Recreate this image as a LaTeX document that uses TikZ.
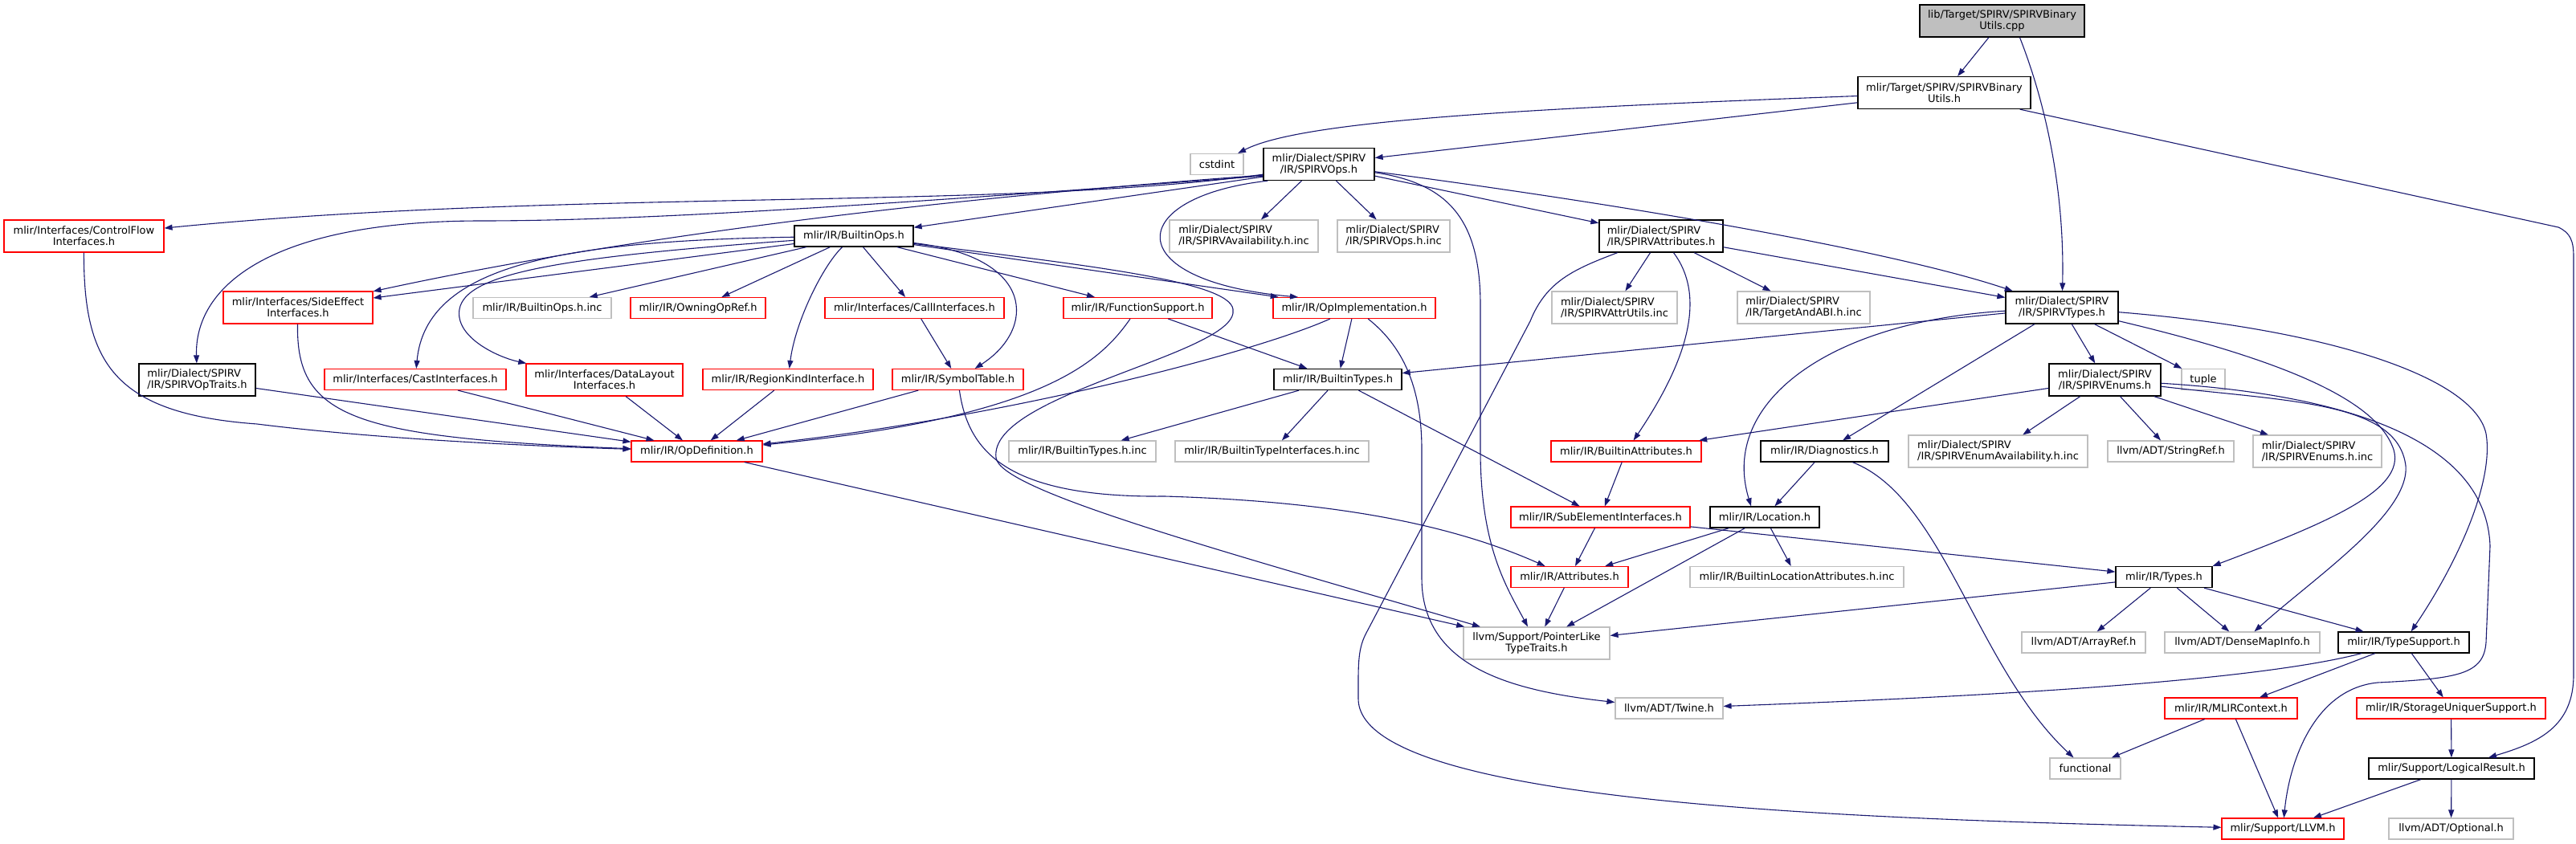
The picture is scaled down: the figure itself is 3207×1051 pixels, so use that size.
\documentclass[tikz,border=0pt]{standalone}
\usepackage{fontspec}
\setmainfont{DejaVu Sans}
\usepackage{tikz}
\usetikzlibrary{arrows.meta}
\definecolor{midnight}{RGB}{25,25,112}
\definecolor{alertRed}{RGB}{255,0,0}
\definecolor{lightGray}{RGB}{191,191,191}
\tikzstyle{edge}  =[-{Triangle[length=10pt,width=7pt]}, line width=1.1pt, midnight]
\tikzstyle{file}  =[rectangle, draw=black, fill=white, line width=1.3pt,
                    inner sep=0pt, minimum height=26pt, align=center,
                    font=\fontsize{13}{14}\selectfont]
\tikzstyle{redfile} =[file, draw=alertRed, line width=1.1pt]
\tikzstyle{grayfile}=[file, draw=lightGray, line width=1.1pt]
\tikzstyle{tall}  =[minimum height=40pt]
\tikzstyle{leftlines}=[align=left]

\begin{document}
\begin{tikzpicture}[x=1pt,y=-1pt]
    \useasboundingbox (0,0) rectangle (3207,1051);

    \draw (2492.5,26) node (top) [file,tall,fill=lightGray,minimum width=205pt] {lib/Target/SPIRV/SPIRVBinary\\Utils.cpp};
    \draw (2420.5,115.5) node (binh) [file,tall,minimum width=215pt] {mlir/Target/SPIRV/SPIRVBinary\\Utils.h};
    \draw (1515,204.5) node (cstdint) [grayfile,minimum width=66pt] {cstdint};
    \draw (1642,204.5) node (ops) [file,tall,minimum width=138pt] {mlir/Dialect/SPIRV\\/IR/SPIRVOps.h};
    \draw (104.5,294) node (ctrlflow) [redfile,tall,minimum width=199pt] {mlir/Interfaces/ControlFlow\\Interfaces.h};
    \draw (1063,294) node (bops) [file,minimum width=148pt] {mlir/IR/BuiltinOps.h};
    \draw (1548.5,294) node (avail) [grayfile,tall,leftlines,minimum width=185pt] {mlir/Dialect/SPIRV\\/IR/SPIRVAvailability.h.inc};
    \draw (1735,294) node (opsinc) [grayfile,tall,leftlines,minimum width=140pt] {mlir/Dialect/SPIRV\\/IR/SPIRVOps.h.inc};
    \draw (2068,294) node (attrs) [file,tall,leftlines,minimum width=154pt] {mlir/Dialect/SPIRV\\/IR/SPIRVAttributes.h};
    \draw (371,383) node (sideeff) [redfile,tall,minimum width=186pt] {mlir/Interfaces/SideEffect\\Interfaces.h};
    \draw (675,383.5) node (bopsinc) [grayfile,minimum width=172pt] {mlir/IR/BuiltinOps.h.inc};
    \draw (869,383.5) node (owning) [redfile,minimum width=168pt] {mlir/IR/OwningOpRef.h};
    \draw (1138.5,383.5) node (call) [redfile,minimum width=223pt] {mlir/Interfaces/CallInterfaces.h};
    \draw (1416.5,383.5) node (funcsup) [redfile,minimum width=185pt] {mlir/IR/FunctionSupport.h};
    \draw (1686,383.5) node (opimpl) [redfile,minimum width=202pt] {mlir/IR/OpImplementation.h};
    \draw (2010,383) node (attrutils) [grayfile,tall,leftlines,minimum width=156pt] {mlir/Dialect/SPIRV\\/IR/SPIRVAttrUtils.inc};
    \draw (2245.5,383) node (tabi) [grayfile,tall,leftlines,minimum width=165pt] {mlir/Dialect/SPIRV\\/IR/TargetAndABI.h.inc};
    \draw (2567,383) node (stypes) [file,tall,minimum width=140pt] {mlir/Dialect/SPIRV\\/IR/SPIRVTypes.h};
    \draw (245.5,473) node (optraits) [file,tall,leftlines,minimum width=145pt] {mlir/Dialect/SPIRV\\/IR/SPIRVOpTraits.h};
    \draw (517,472.5) node (cast) [redfile,minimum width=226pt] {mlir/Interfaces/CastInterfaces.h};
    \draw (752.5,473) node (dlayout) [redfile,tall,minimum width=195pt] {mlir/Interfaces/DataLayout\\Interfaces.h};
    \draw (981,472.5) node (region) [redfile,minimum width=212pt] {mlir/IR/RegionKindInterface.h};
    \draw (1192.5,472.5) node (symtab) [redfile,minimum width=163pt] {mlir/IR/SymbolTable.h};
    \draw (1665.5,472.5) node (btypes) [file,minimum width=159pt] {mlir/IR/BuiltinTypes.h};
    \draw (2620.5,473) node (enums) [file,tall,minimum width=139pt] {mlir/Dialect/SPIRV\\/IR/SPIRVEnums.h};
    \draw (2743,472.5) node (tuple) [grayfile,minimum width=54pt] {tuple};
    \draw (867.5,562) node (opdef) [redfile,minimum width=163pt] {mlir/IR/OpDefinition.h};
    \draw (1347.5,562) node (btypesinc) [grayfile,minimum width=183pt] {mlir/IR/BuiltinTypes.h.inc};
    \draw (1583.5,562) node (btifinc) [grayfile,minimum width=241pt] {mlir/IR/BuiltinTypeInterfaces.h.inc};
    \draw (2024.5,562) node (battrs) [redfile,minimum width=187pt] {mlir/IR/BuiltinAttributes.h};
    \draw (2271.5,562) node (diag) [file,minimum width=159pt] {mlir/IR/Diagnostics.h};
    \draw (2487.5,562) node (enumavail) [grayfile,tall,leftlines,minimum width=223pt] {mlir/Dialect/SPIRV\\/IR/SPIRVEnumAvailability.h.inc};
    \draw (2702.5,562) node (stringref) [grayfile,minimum width=157pt] {llvm/ADT/StringRef.h};
    \draw (2885,562) node (enumsinc) [grayfile,tall,leftlines,minimum width=160pt] {mlir/Dialect/SPIRV\\/IR/SPIRVEnums.h.inc};
    \draw (1992.5,644) node (subelem) [redfile,minimum width=223pt] {mlir/IR/SubElementInterfaces.h};
    \draw (2197,644) node (location) [file,minimum width=136pt] {mlir/IR/Location.h};
    \draw (1954,718.5) node (attributes) [redfile,minimum width=146pt] {mlir/IR/Attributes.h};
    \draw (2237,718.5) node (blocinc) [grayfile,minimum width=266pt] {mlir/IR/BuiltinLocationAttributes.h.inc};
    \draw (2694,718.5) node (types) [file,minimum width=120pt] {mlir/IR/Types.h};
    \draw (1913,801) node (ptrlike) [grayfile,tall,minimum width=182pt] {llvm/Support/PointerLike\\TypeTraits.h};
    \draw (2594,800) node (arrayref) [grayfile,minimum width=154pt] {llvm/ADT/ArrayRef.h};
    \draw (2791.5,800) node (densemap) [grayfile,minimum width=193pt] {llvm/ADT/DenseMapInfo.h};
    \draw (2992.5,800) node (typesup) [file,minimum width=163pt] {mlir/IR/TypeSupport.h};
    \draw (2078,882) node (twine) [grayfile,minimum width=134pt] {llvm/ADT/Twine.h};
    \draw (2777.5,882) node (mlirctx) [redfile,minimum width=165pt] {mlir/IR/MLIRContext.h};
    \draw (3051.5,882) node (storage) [redfile,minimum width=235pt] {mlir/IR/StorageUniquerSupport.h};
    \draw (2596,957) node (functional) [grayfile,minimum width=88pt] {functional};
    \draw (3052,957) node (logical) [file,minimum width=206pt] {mlir/Support/LogicalResult.h};
    \draw (2842,1032) node (llvmh) [redfile,minimum width=152pt] {mlir/Support/LLVM.h};
    \draw (3051.5,1032) node (optional) [grayfile,minimum width=155pt] {llvm/ADT/Optional.h};

    \foreach \i/\j in {top/binh,binh/ops,ops/avail,ops/opsinc,ops/attrs,
    bops/sideeff,bops/bopsinc,bops/owning,bops/call,bops/funcsup,bops/opimpl,
    call/symtab,funcsup/btypes,opimpl/btypes,attrs/attrutils,attrs/tabi,attrs/stypes,
    stypes/btypes,stypes/diag,stypes/enums,stypes/tuple,optraits/opdef,cast/opdef,
    dlayout/opdef,region/opdef,symtab/opdef,btypes/btypesinc,btypes/btifinc,
    btypes/subelem,enums/battrs,enums/enumavail,enums/stringref,enums/enumsinc,
    battrs/subelem,subelem/attributes,subelem/types,diag/location,location/attributes,
    location/ptrlike,location/blocinc,attributes/ptrlike,types/ptrlike,types/arrayref,
    types/densemap,types/typesup,opdef/ptrlike,typesup/mlirctx,typesup/storage,
    mlirctx/functional,mlirctx/llvmh,storage/logical,logical/llvmh,logical/optional}
        \draw [edge] (\i) to (\j);

    \draw [edge] ([xshift=22pt]top.south) .. controls (2555,150) and (2570,260) .. (stypes);
    \draw [edge] (binh) .. controls (1900,135) and (1620,150) .. (cstdint);
    \draw [edge] (binh) -- (3185,283) .. controls (3200,290) and (3204,300) .. (3204,320)
        -- (3204,840) .. controls (3204,905) and (3160,925) .. (logical);

    \draw [edge] ([yshift=5pt]ops.south west) -- (bops);
    \draw [edge] ([yshift=8pt]ops.south west) .. controls (1250,262) and (700,235) .. (ctrlflow);
    \draw [edge] ([yshift=6pt]ops.south west) .. controls (1100,255) and (800,275) .. (600,275)
        .. controls (330,275) and (242,360) .. (optraits);
    \draw [edge] ([yshift=7pt]ops.south west) .. controls (1200,245) and (800,290) .. (sideeff);
    \draw [edge] ([xshift=6pt]ops.south west) .. controls (1400,245) and (1390,350) .. ([xshift=-70pt]opimpl.north);
    \draw [edge] (ops) .. controls (2100,265) and (2380,320) .. (stypes);
    \draw [edge] (ops) .. controls (1800,228) and (1843,270) .. (1843,380)
        -- (1843,560) .. controls (1843,680) and (1875,730) .. (ptrlike);

    \draw [edge] (bops) .. controls (1025,330) and (990,400) .. (region);
    \draw [edge] (bops) .. controls (1290,320) and (1290,410) .. (symtab);
    \draw [edge] (bops) .. controls (700,300) and (530,330) .. (cast);
    \draw [edge] (bops) .. controls (700,320) and (580,340) .. (572,385)
        .. controls (566,420) and (620,445) .. (dlayout);
    \draw [edge] (bops) .. controls (1350,330) and (1530,350) .. (1535,385)
        .. controls (1545,440) and (1230,490) .. (1240,570)
        .. controls (1245,610) and (1500,680) .. (ptrlike);

    \draw [edge] (symtab) .. controls (1205,560) and (1250,620) .. (1450,618)
        .. controls (1650,624) and (1800,650) .. (attributes);
    \draw [edge] (sideeff) .. controls (368,520) and (440,545) .. (opdef);
    \draw [edge] (ctrlflow) .. controls (104,450) and (140,515) .. (320,528)
        .. controls (480,548) and (680,556) .. (opdef);
    \draw [edge] (funcsup) .. controls (1370,450) and (1300,520) .. (opdef);
    \draw [edge] (opimpl) .. controls (1560,440) and (1250,520) .. (opdef);
    \draw [edge] (opimpl) .. controls (1745,430) and (1770,480) .. (1770,560)
        -- (1770,720) .. controls (1770,830) and (1880,860) .. (twine);

    \draw [edge] (attrs) .. controls (2125,370) and (2100,450) .. (battrs);
    \draw [edge] (attrs) .. controls (1960,335) and (1925,350) .. (1905,400) -- (1700,790)
        .. controls (1690,810) and (1691,830) .. (1691,870)
        .. controls (1691,1000) and (2300,1020) .. (llvmh);

    \draw [edge] (stypes) .. controls (2280,400) and (2140,500) .. ([xshift=-17pt]location.north);
    \draw [edge] (stypes) .. controls (2850,450) and (2960,500) .. (2980,560)
        .. controls (2995,610) and (2900,650) .. (types.north east);
    \draw [edge] (stypes) .. controls (2900,410) and (3080,470) .. (3095,540)
        .. controls (3105,600) and (3060,700) .. (typesup);

    \draw [edge] (enums) .. controls (2850,500) and (2985,500) .. (2995,580)
        .. controls (3000,640) and (2880,720) .. (densemap);
    \draw [edge] (enums) .. controls (2900,490) and (3095,540) .. (3100,680) -- (3095,800)
        .. controls (3092,840) and (3060,845) .. (2960,850)
        .. controls (2880,858) and (2850,950) .. (llvmh);

    \draw [edge] (diag) .. controls (2420,620) and (2460,830) .. (functional);
    \draw [edge] (typesup) .. controls (2800,850) and (2450,868) .. (twine);

\end{tikzpicture}
\end{document}
